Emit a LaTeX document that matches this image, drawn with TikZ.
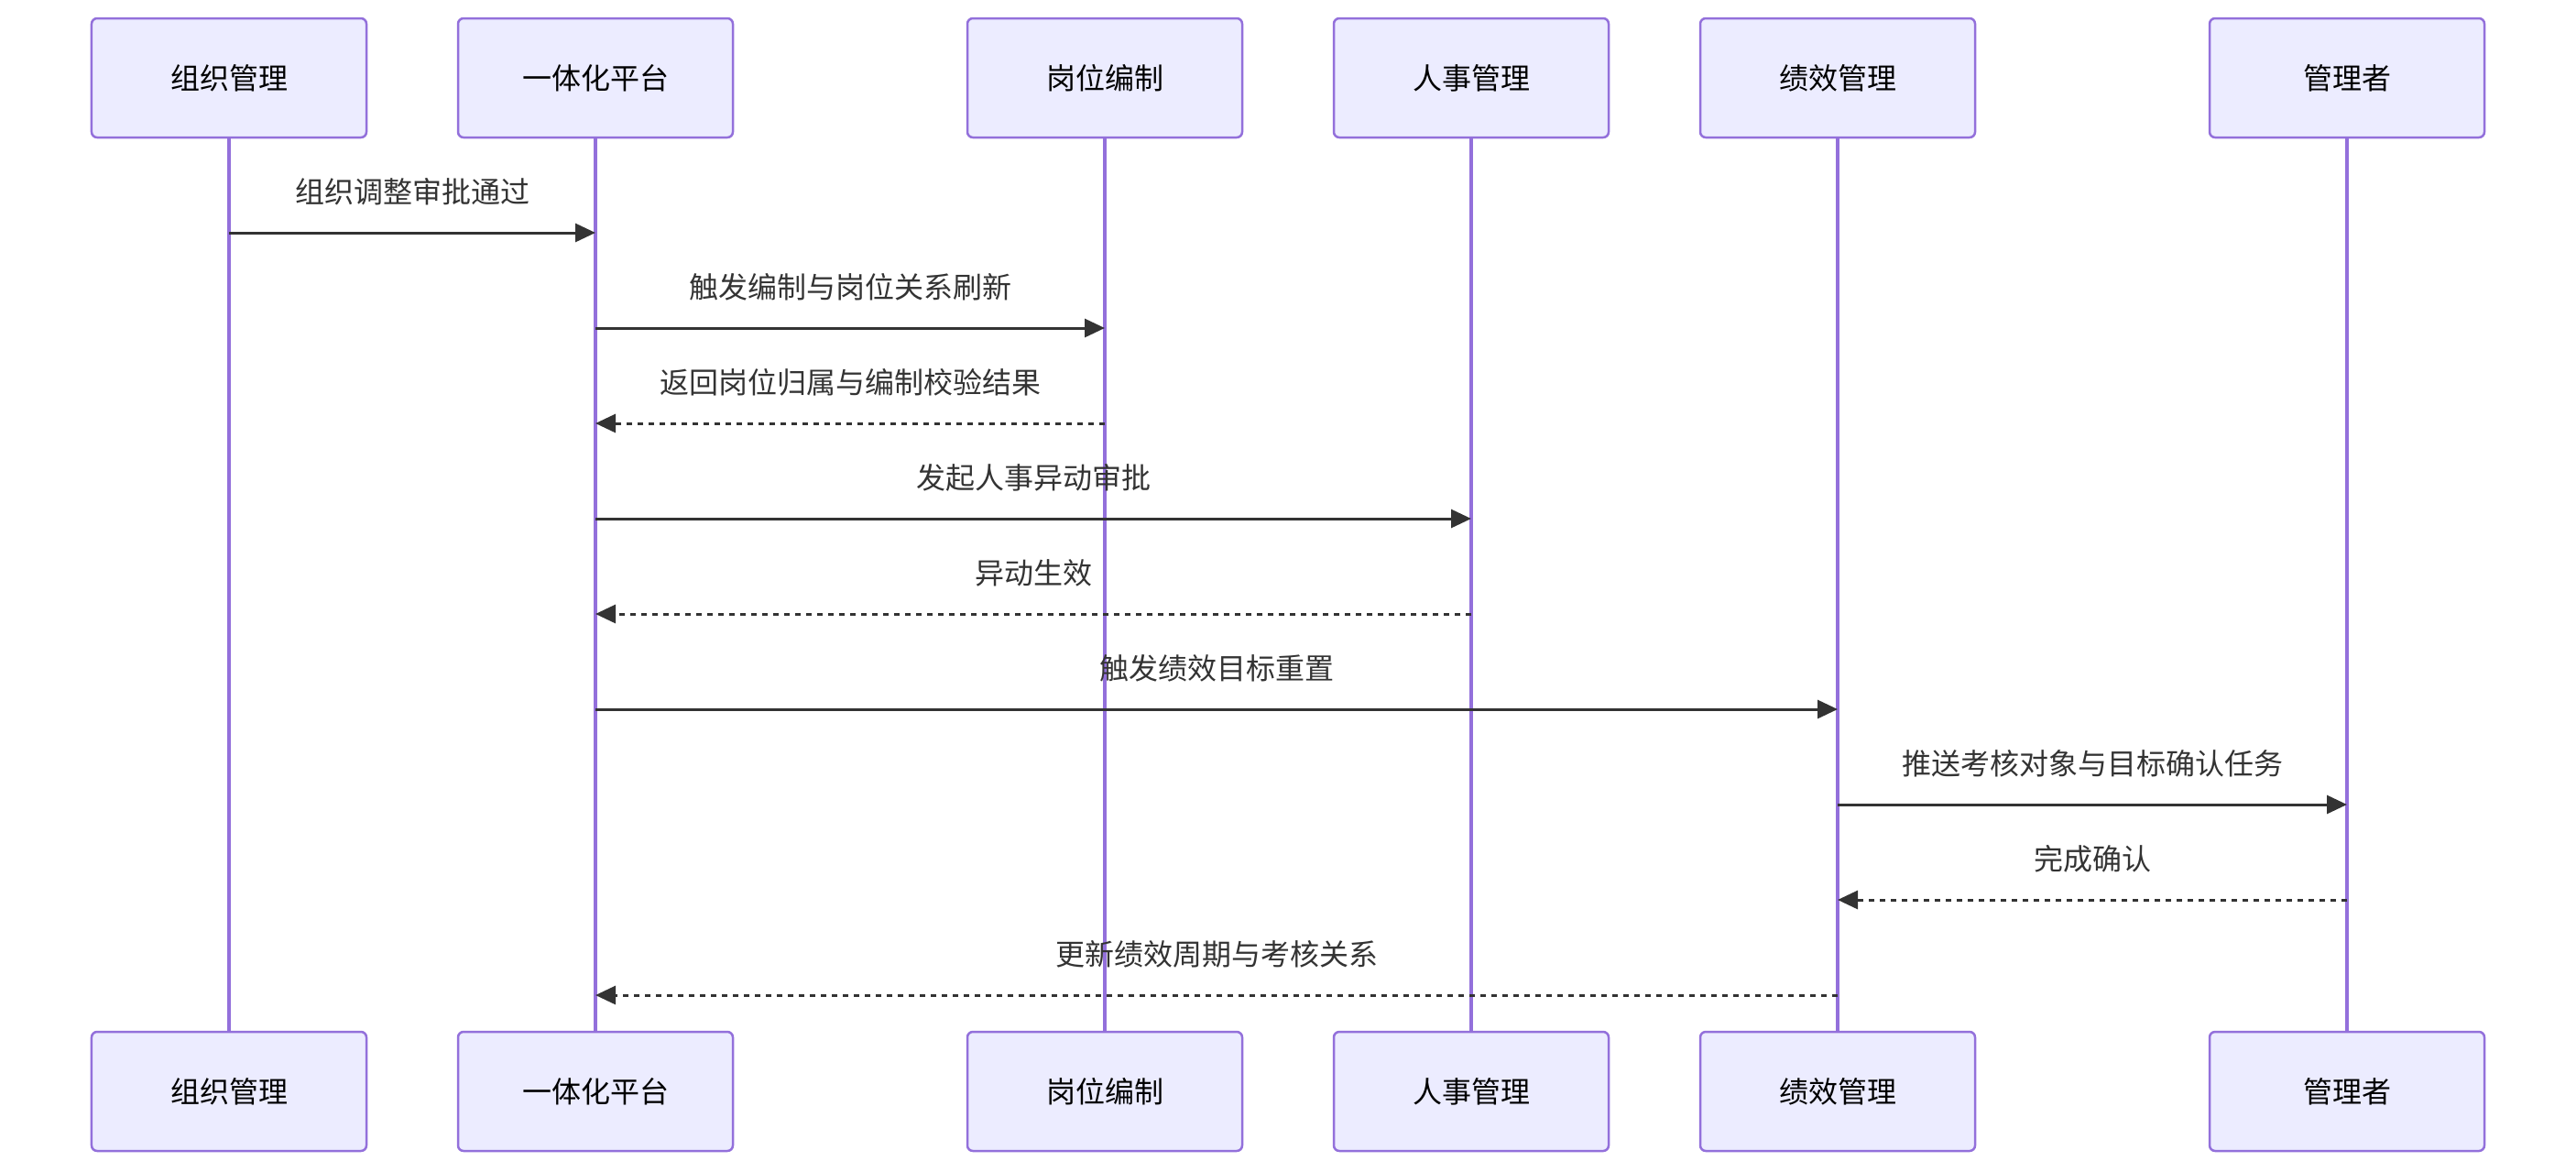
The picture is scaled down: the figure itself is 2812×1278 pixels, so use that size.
\documentclass[tikz,border=0pt]{standalone}
\usepackage{fontspec}
\setmainfont{Noto Sans CJK SC}
\usetikzlibrary{arrows.meta}
\definecolor{boxfill}{HTML}{ECECFF}
\definecolor{boxline}{HTML}{9370DB}
\definecolor{msg}{HTML}{333333}
\begin{document}
\begin{tikzpicture}[x=1bp,y=-1bp,
  actor/.style={draw=boxline, fill=boxfill, line width=2.5bp, rounded corners=6bp,
    minimum width=300bp, minimum height=130bp, inner sep=0,
    font=\fontsize{32bp}{38bp}\selectfont, text=black},
  life/.style={draw=boxline, line width=3.5bp},
  msgline/.style={draw=msg, line width=3bp, -{Triangle[length=22bp,width=20bp]}},
  reply/.style={msgline, dash pattern=on 6bp off 6bp},
  lbl/.style={font=\fontsize{32bp}{38bp}\selectfont, text=msg, inner sep=0}]
\useasboundingbox (0,0) rectangle (2812,1278);
% top actors
\node[actor] (A) at (250,85) {组织管理};
\node[actor] (B) at (650,85) {一体化平台};
\node[actor] (C) at (1206,85) {岗位编制};
\node[actor] (D) at (1606,85) {人事管理};
\node[actor] (E) at (2006,85) {绩效管理};
\node[actor] (F) at (2562,85) {管理者};
% bottom actors
\node[actor] (A2) at (250,1191) {组织管理};
\node[actor] (B2) at (650,1191) {一体化平台};
\node[actor] (C2) at (1206,1191) {岗位编制};
\node[actor] (D2) at (1606,1191) {人事管理};
\node[actor] (E2) at (2006,1191) {绩效管理};
\node[actor] (F2) at (2562,1191) {管理者};
% lifelines
\foreach \t/\b in {A/A2,B/B2,C/C2,D/D2,E/E2,F/F2}
  \draw[life] (\t.south) -- (\b.north);
% message rows
\coordinate (m1) at (0,254);
\coordinate (m2) at (0,358);
\coordinate (m3) at (0,462);
\coordinate (m4) at (0,566);
\coordinate (m5) at (0,670);
\coordinate (m6) at (0,774);
\coordinate (m7) at (0,878);
\coordinate (m8) at (0,982);
\coordinate (m9) at (0,1086);
% messages
\draw[msgline] (A |- m1) -- (B |- m1);
\node[lbl] (l1) at (450,209) {组织调整审批通过};
\draw[msgline] (B |- m2) -- (C |- m2);
\node[lbl] (l2) at (928,313) {触发编制与岗位关系刷新};
\draw[reply] (C |- m3) -- (B |- m3);
\node[lbl] (l3) at (928,417) {返回岗位归属与编制校验结果};
\draw[msgline] (B |- m4) -- (D |- m4);
\node[lbl] (l4) at (1128,521) {发起人事异动审批};
\draw[reply] (D |- m5) -- (B |- m5);
\node[lbl] (l5) at (1128,625) {异动生效};
\draw[msgline] (B |- m6) -- (E |- m6);
\node[lbl] (l6) at (1328,729) {触发绩效目标重置};
\draw[msgline] (E |- m7) -- (F |- m7);
\node[lbl] (l7) at (2284,833) {推送考核对象与目标确认任务};
\draw[reply] (F |- m8) -- (E |- m8);
\node[lbl] (l8) at (2284,937) {完成确认};
\draw[reply] (E |- m9) -- (B |- m9);
\node[lbl] (l9) at (1328,1041) {更新绩效周期与考核关系};
\end{tikzpicture}
\end{document}
